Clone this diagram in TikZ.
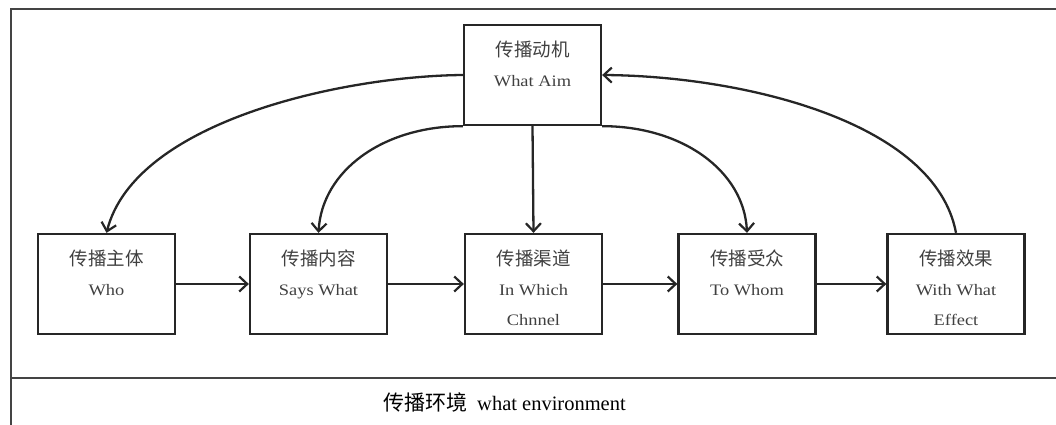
\documentclass[tikz,border=0pt]{standalone}
\usepackage{fontspec}
\setmainfont{Liberation Serif}
\newfontfamily\cjk{Noto Sans CJK SC}
\newfontfamily\boxlatin[FakeStretch=1.15]{Liberation Serif}
\usetikzlibrary{arrows.meta}
\definecolor{linec}{HTML}{262626}
\definecolor{framec}{HTML}{444444}
\definecolor{textc}{HTML}{404040}
\tikzset{
  box/.style={draw=linec, line width=2.3pt, minimum width=137pt, minimum height=100pt, inner sep=0pt},
  boxtext/.style={anchor=north, align=center, inner sep=0pt, text=textc,
    font={\boxlatin\fontsize{16}{30}\selectfont}},
  conn/.style={draw=linec, line width=2.3pt, -{Straight Barb[length=8pt,width=15pt,line width=2.2pt]}},
  frame/.style={draw=framec, line width=2.3pt},
}
\newcommand{\zh}[1]{{\cjk\fontsize{18.5}{30}\selectfont #1}}
\begin{document}
\begin{tikzpicture}[x=1pt,y=-1pt]
\useasboundingbox (0,0) rectangle (1056,425);
% frame
\coordinate (ftl) at (11,9);
\coordinate (ftr) at (1056,9);
\coordinate (fbl) at (11,425);
\coordinate (fml) at (11,378);
\coordinate (fmr) at (1056,378);
\draw[frame] (ftr) -- (ftl) -- (fbl);
\draw[frame] (fml) -- (fmr);
% boxes
\node[box] (top) at (532.5,75) {};
\node[box] (who) at (106.5,284) {};
\node[box] (says) at (318.5,284) {};
\node[box] (chan) at (533.5,284) {};
\node[box] (whom) at (747,284) {};
\node[box] (eff) at (956,284) {};
% texts
\node[boxtext] (ttop) at ([yshift=-17pt]top.north) {\zh{传播动机}\\What Aim};
\node[boxtext] (twho) at ([yshift=-17pt]who.north) {\zh{传播主体}\\Who};
\node[boxtext] (tsays) at ([yshift=-17pt]says.north) {\zh{传播内容}\\Says What};
\node[boxtext] (tchan) at ([yshift=-17pt]chan.north) {\zh{传播渠道}\\In Which\\Chnnel};
\node[boxtext] (twhom) at ([yshift=-17pt]whom.north) {\zh{传播受众}\\To Whom};
\node[boxtext] (teff) at ([yshift=-17pt]eff.north) {\zh{传播效果}\\With What\\Effect};
% horizontal arrows
\draw[conn] (who.east) -- (says.west);
\draw[conn] (says.east) -- (chan.west);
\draw[conn] (chan.east) -- (whom.west);
\draw[conn] (whom.east) -- (eff.west);
% curves from top
\draw[conn] (top.west) .. controls +(-119,1) and +(28.5,-112) .. (who.north);
\draw[conn] (top.south west) .. controls +(-80,0) and +(3.5,-62) .. (says.north);
\draw[conn] (top.south) -- (chan.north);
\draw[conn] (top.south east) .. controls +(80,0) and +(-3,-62) .. (whom.north);
\draw[conn] (eff.north) .. controls +(-21,-112) and +(139,1) .. (top.east);
% environment
\node[anchor=base west, inner sep=0pt, font={\fontsize{20.5}{24}\selectfont}] (env) at (383,410)
  {{\cjk\fontsize{21}{24}\selectfont 传播环境}\hspace{10pt}what environment};
\end{tikzpicture}
\end{document}
